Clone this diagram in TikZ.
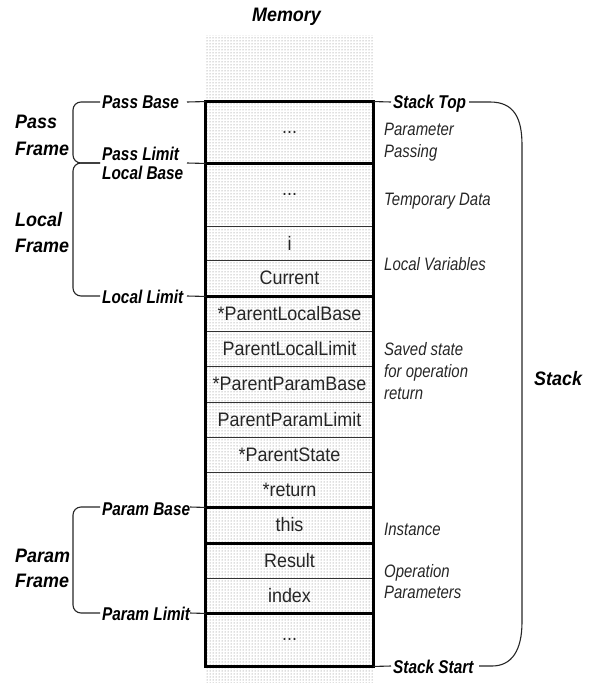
\documentclass[tikz,border=0pt]{standalone}
\usepackage{fontspec}
\setmainfont{Liberation Sans}
\newfontfamily\narrowfont{Liberation Sans}[FakeStretch=0.83]
\newfontfamily\cellfont{Liberation Sans}[FakeStretch=0.92]
\usetikzlibrary{patterns}
\begin{document}
\begin{tikzpicture}[x=1pt,y=-1pt,
  cell/.style={draw=black!80, line width=0.9pt, minimum width=167pt, inner sep=0pt,
    font=\cellfont\fontsize{19.5}{22}\selectfont, text=black!85},
  thickline/.style={line width=3pt, line cap=rect, black},
  title/.style={font=\cellfont\fontsize{19.5}{22}\selectfont\bfseries\itshape, inner sep=0pt, anchor=base west},
  marker/.style={font=\narrowfont\fontsize{18.5}{22}\selectfont\bfseries\itshape, inner sep=0pt, anchor=base west},
  desc/.style={font=\narrowfont\fontsize{18}{22}\selectfont\itshape, inner sep=0pt, anchor=base west, text=black!85},
  lead/.style={line width=1.1pt, black!85},
  lbrace/.style={lead, rounded corners=8pt},
]
\useasboundingbox (0,0) rectangle (592,683);
% dotted memory strip
\fill[pattern=dots, pattern color=black!55] (205,35) rectangle (373,683);

% title
\node[title, anchor=base] (mem) at (286.5,21) {Memory};

% memory cells
\node[cell, minimum height=61pt] (r1) at (289.5,132.5) {...};
\node[cell, minimum height=63pt] (r2) at (289.5,194.5) {...};
\node[cell, minimum height=34pt] (r3) at (289.5,243) {i};
\node[cell, minimum height=36pt] (r4) at (289.5,278) {Current};
\node[cell, minimum height=35pt] (r5) at (289.5,313.5) {*ParentLocalBase};
\node[cell, minimum height=35pt] (r6) at (289.5,348.5) {ParentLocalLimit};
\node[cell, minimum height=36pt] (r7) at (289.5,384) {*ParentParamBase};
\node[cell, minimum height=35pt] (r8) at (289.5,419.5) {ParentParamLimit};
\node[cell, minimum height=35pt] (r9) at (289.5,454.5) {*ParentState};
\node[cell, minimum height=35pt] (r10) at (289.5,489.5) {*return};
\node[cell, minimum height=36pt] (r11) at (289.5,525) {this};
\node[cell, minimum height=35pt] (r12) at (289.5,560.5) {Result};
\node[cell, minimum height=35pt] (r13) at (289.5,595.5) {index};
\node[cell, minimum height=53pt] (r14) at (289.5,639.5) {...};

% thick separators and outline
\draw[thickline] (r1.north west) rectangle (r14.south east);
\foreach \r in {r1,r4,r10,r11,r13}
  \draw[thickline] (\r.south west) -- (\r.south east);

% left frame titles
\node[title] (pf1) at (15,128) {Pass};
\node[title] (pf2) at (15,155) {Frame};
\node[title] (lf1) at (15,226) {Local};
\node[title] (lf2) at (15,252) {Frame};
\node[title] (af1) at (15,562) {Param};
\node[title] (af2) at (15,587) {Frame};

% left markers
\node[marker] (pb) at (102,108) {Pass Base};
\node[marker] (pl) at (102,160) {Pass Limit};
\node[marker] (lb) at (102,179) {Local Base};
\node[marker] (ll) at (102,303) {Local Limit};
\node[marker] (ab) at (102,515) {Param Base};
\node[marker] (al) at (102,620) {Param Limit};

\coordinate (pbL) at (100,102); \coordinate (pbR) at (187,102);
\coordinate (plL) at (100,163); \coordinate (plR) at (187,163);
\coordinate (llL) at (100,296); \coordinate (llR) at (187,296);
\coordinate (abL) at (100,507); \coordinate (abR) at (190,507);
\coordinate (alL) at (100,613); \coordinate (alR) at (190,613);

\draw[lbrace] (pbL) -- (73,102) -- (73,163) -- (plL);
\draw[lbrace] (plL) -- (73,163) -- (73,296) -- (llL);
\draw[lbrace] (abL) -- (73,507) -- (73,613) -- (alL);
\draw[lead] (pbR) -- (r1.north west);
\draw[lead] (plR) -- (r1.south west);
\draw[lead] (llR) -- (r4.south west);
\draw[lead] (abR) -- (r10.south west);
\draw[lead] (alR) -- (r13.south west);

% right markers and stack brace
\node[marker] (st) at (393,108) {Stack Top};
\node[marker] (ss) at (393,673) {Stack Start};
\coordinate (stL) at (391,102); \coordinate (stR) at (469,102);
\coordinate (ssL) at (391,666); \coordinate (ssR) at (479,666);
\draw[lead] (r1.north east) -- (stL);
\draw[lead] (r14.south east) -- (ssL);
\draw[lead] (stR) -- (490,102) .. controls (514,102) and (522,118) .. (522,145)
  -- (522,622) .. controls (522,650) and (512,666) .. (492,666) -- (ssR);
\node[title] (stk) at (534,385) {Stack};

% descriptions
\node[desc] (d1a) at (384,135) {Parameter};
\node[desc] (d1b) at (384,157) {Passing};
\node[desc] (d2) at (384,205) {Temporary Data};
\node[desc] (d3) at (384,270) {Local Variables};
\node[desc] (d4a) at (384,355) {Saved state};
\node[desc] (d4b) at (384,377) {for operation};
\node[desc] (d4c) at (384,399) {return};
\node[desc] (d5) at (384,535) {Instance};
\node[desc] (d6a) at (384,577) {Operation};
\node[desc] (d6b) at (384,598) {Parameters};
\end{tikzpicture}
\end{document}
